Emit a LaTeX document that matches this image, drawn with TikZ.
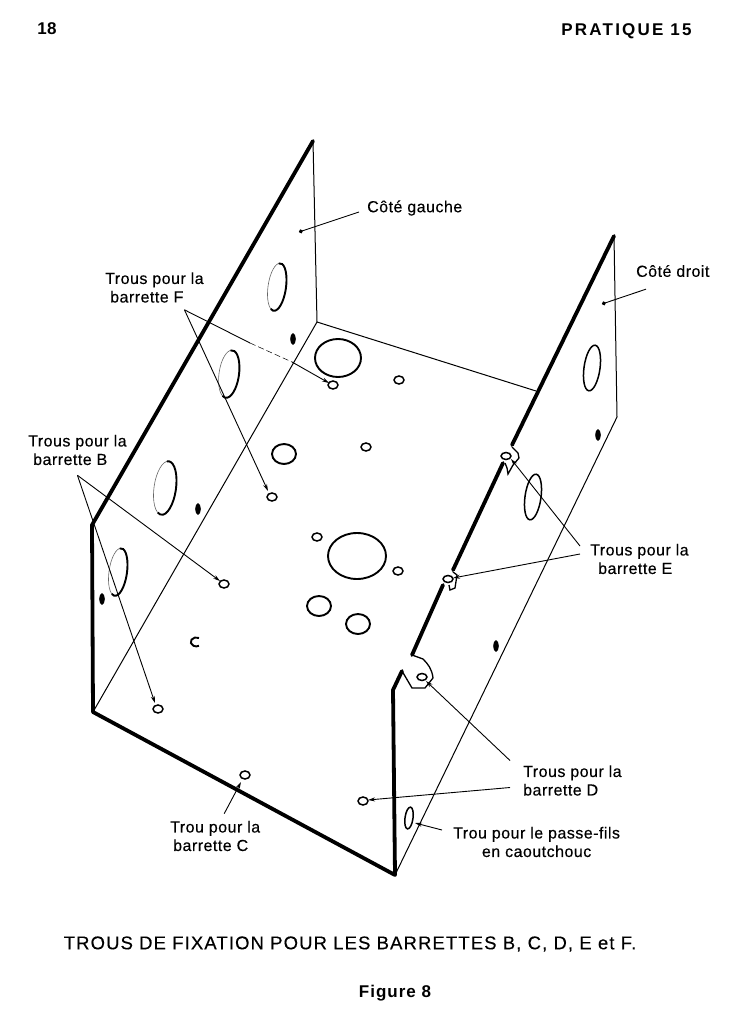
\documentclass[tikz,border=0pt]{standalone}
\usepackage{fontspec}
\setmainfont{Liberation Sans}
\usetikzlibrary{arrows.meta}
\tikzset{
  thinedge/.style={line width=1pt},
  thickedge/.style={line width=3.8pt,line cap=round,line join=round},
  hole/.style={line width=1.5pt},
  bighole/.style={line width=1.9pt},
  faint/.style={line width=0.6pt,black!60},
  slot/.style={fill=black,line width=0.5pt},
  leader/.style={line width=0.9pt,-{Stealth[length=7pt,width=4pt]}},
  dotleader/.style={line width=0.9pt,-{Circle[length=4pt]}},
  lbl/.style={align=left,anchor=west,inner sep=0pt,font=\fontsize{16}{18.5}\selectfont\addfontfeatures{LetterSpace=3,FakeBold=0.3}},
  lettered/.style={inner sep=0pt,font=\fontsize{17}{19}\selectfont\bfseries\addfontfeatures{LetterSpace=#1}},
}
\begin{document}
\begin{tikzpicture}[x=1pt,y=-1pt]
\useasboundingbox (0,0) rectangle (748,1024);
% Define corners of the chassis
\coordinate (TL) at (313,141);
\coordinate (ML) at (92,525);
\coordinate (BL) at (93,712);
\coordinate (BM) at (395,875);
\coordinate (IN) at (317,322);
\coordinate (IR) at (536,391);
\coordinate (TR) at (614,236);
\coordinate (ER) at (617,417);
% Draw the thin edges
\draw[thinedge] (TL) -- (IN) -- (BL);
\draw[thinedge] (IN) -- (IR);
\draw[thinedge] (TR) -- (ER) -- (BM);
% Draw the thick edges
\draw[thickedge] (TL) -- (ML) -- (BL) -- (BM) -- (393,690) -- (402,671);
\draw[thickedge] (TR) -- (512,445);
\draw[thickedge] (503,463) -- (453,570);
\draw[thickedge] (443,585) -- (412,655);
% Draw the tabs on the folded edge
\draw[line width=1.3pt] (512,447) -- (518,453) -- (519,458) -- (513,465) -- (508,474) -- (507,468) -- (505,463);
\draw[hole] (506,456) ellipse (5 and 3.5);
\draw[line width=1.3pt] (453,572) -- (457,575) -- (455,588) -- (450,590) -- (449,585);
\draw[hole] (448,579) ellipse (5 and 3.5);
\draw[line width=1.3pt] (412,655) -- (423,659) .. controls (428,664) and (432,669) .. (433,678) -- (425,688) -- (412,688) -- (402,671);
\draw[hole] (422,677) ellipse (5 and 3.5);
% Draw the large holes of the left side
\foreach \x/\y/\rx/\ry in {277/287/9/24,229/374/10/24,165/488/11/27,118/572/9/24} {
  \draw[faint,rotate around={-8:(\x,\y)}] (\x,\y) ellipse (\rx pt and \ry pt);
  \draw[bighole,rotate around={-8:(\x,\y)}] (\x,\y) ++(100:\rx pt and \ry pt) arc (100:-110:\rx pt and \ry pt);
}
% Draw the large holes of the right side
\foreach \x/\y/\rx/\ry in {592/368/8/23,533/497/8/23,409/818/4/11}
  \draw[hole,rotate around={-8:(\x,\y)}] (\x,\y) ellipse (\rx pt and \ry pt);
% Draw the small slots in the sides
\foreach \x/\y in {293/339,198/509,102/599,598/435,496/646}
  \draw[slot] (\x,\y) ellipse (2.5pt and 5.5pt);
% Draw the floor holes
\foreach \x/\y/\rx/\ry in {338/358/23/19,284/454/12/10,357/556/29/23,319/606/12/10,358/624/12/10}
  \draw[bighole] (\x,\y) ellipse (\rx pt and \ry pt);
\foreach \x/\y in {399/380,366/447,317/537,398/571,333/385,272/497,224/584,158/709,245/775,363/801}
  \draw[hole] (\x,\y) ellipse (5pt and 4pt);
\draw[bighole] (199,638) arc (60:300:5.5pt and 4.5pt);
% Label the parts
\node[lbl] (gauche) at (367,208) {Côté gauche};
\node[lbl] (droit) at (636,271) {Côté droit};
\node[lbl] (trousF) at (105,287.5) {Trous pour la\\\hspace*{5pt}barrette F};
\node[lbl] (trousB) at (28,450) {Trous pour la\\\hspace*{5pt}barrette B};
\node[lbl] (trousE) at (590,559) {Trous pour la\\\hspace*{8pt}barrette E};
\node[lbl] (trousD) at (523,780.5) {Trous pour la\\barrette D};
\node[lbl] (trousC) at (170,836) {Trou pour la\\\hspace*{3pt}barrette C};
\node[lbl,align=center] (passe) at (453,842) {Trou pour le passe-fils\\en caoutchouc};
% Leader ends
\coordinate (endgauche) at (299,232);
\coordinate (enddroit) at (602,304);
\coordinate (endF1) at (329,383);
\coordinate (endF2) at (268,491);
\coordinate (endB1) at (220,581);
\coordinate (endB2) at (155,703);
\coordinate (endE1) at (511,459);
\coordinate (endE2) at (453,578);
\coordinate (endD1) at (426,681);
\coordinate (endD2) at (368,800);
\coordinate (endC) at (241,782);
\coordinate (endP) at (415,823);
\coordinate (brkF1) at (250,343);
\coordinate (brkF2) at (292,362);
% Draw the leaders
\draw[dotleader] ([xshift=-8pt,yshift=-4pt]gauche.west) -- (endgauche);
\draw[dotleader] ([xshift=10pt,yshift=-12pt]droit.south west) -- (enddroit);
\draw[line width=0.9pt] ([xshift=30pt,yshift=-7pt]trousF.south) -- (brkF1);
\draw[line width=0.5pt,dash pattern=on 6pt off 3pt] (brkF1) -- (brkF2);
\draw[leader] (brkF2) -- (endF1);
\draw[leader] ([xshift=30pt,yshift=-7pt]trousF.south) -- (endF2);
\draw[leader] ([yshift=-10pt]trousB.south) -- (endB1);
\draw[leader] ([yshift=-10pt]trousB.south) -- (endB2);
\draw[leader] ([xshift=-10pt,yshift=13pt]trousE.west) -- (endE1);
\draw[leader] ([xshift=-10pt,yshift=5pt]trousE.west) -- (endE2);
\draw[leader] ([xshift=-13pt,yshift=20pt]trousD.west) -- (endD1);
\draw[leader] ([xshift=-13pt,yshift=-7pt]trousD.west) -- (endD2);
\draw[leader] ([xshift=9pt,yshift=7pt]trousC.north) -- (endC);
\draw[leader] ([xshift=-11pt,yshift=12pt]passe.west) -- (endP);
% Page furniture
\node[lettered=3] (page) at (47,29) {18};
\node[lettered=13] (head) at (626.5,31) {PRATIQUE 15};
\node[inner sep=0pt,font=\fontsize{18.5}{20}\selectfont\addfontfeatures{LetterSpace=6,FakeBold=0.3}] (caption) at (350,944) {TROUS DE FIXATION POUR LES BARRETTES B, C, D, E et F.};
\node[lettered=6] (figure) at (395,993) {Figure 8};
\end{tikzpicture}
\end{document}
